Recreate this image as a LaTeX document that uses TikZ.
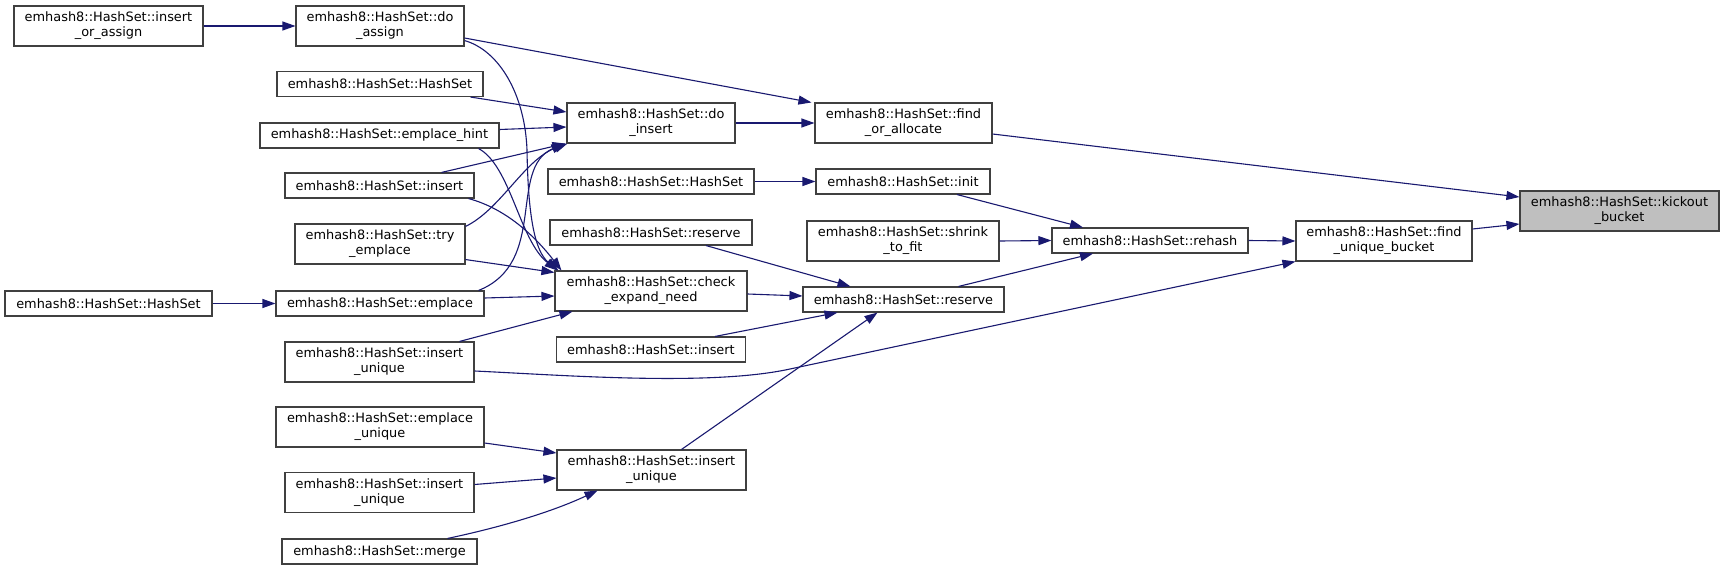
\documentclass[tikz,border=0pt]{standalone}
\usepackage{fontspec}
\setmainfont{DejaVu Sans}
\usetikzlibrary{arrows.meta}
\definecolor{edgecol}{HTML}{191970}
\definecolor{boxcol}{HTML}{404040}
\definecolor{focusfill}{HTML}{BFBFBF}
\begin{document}
\begin{tikzpicture}[x=1pt,y=-1pt,
  fn/.style={draw=boxcol, line width=1.1pt, fill=white, rectangle, inner sep=0pt, align=center,
    font=\fontsize{12.9}{15}\selectfont, minimum height=25pt},
  fntwo/.style={fn, minimum height=40pt},
  call/.style={draw=edgecol, line width=1.1pt, -{Triangle[length=13pt,width=9pt]}},
]
\fill[white] (0,0) rectangle (1724,570);
\useasboundingbox (0,0) rectangle (1724,570);

% column 1
\node[fntwo, minimum width=189pt] (ioa) at (108.5,26) {emhash8::HashSet::insert\\\_or\_assign};
\node[fn, minimum width=207pt] (hsB) at (108.5,303.5) {emhash8::HashSet::HashSet};
% column 2
\node[fntwo, minimum width=168pt] (doassign) at (380,26) {emhash8::HashSet::do\\\_assign};
\node[fn, minimum width=206pt] (hsA) at (380,84) {emhash8::HashSet::HashSet};
\node[fn, minimum width=239pt] (ehint) at (379.5,135.5) {emhash8::HashSet::emplace\_hint};
\node[fn, minimum width=189pt] (insA) at (379.5,185.5) {emhash8::HashSet::insert};
\node[fntwo, minimum width=170pt] (tryemp) at (380,244) {emhash8::HashSet::try\\\_emplace};
\node[fn, minimum width=208pt] (emplace) at (380,303.5) {emhash8::HashSet::emplace};
\node[fntwo, minimum width=189pt] (iuA) at (379.5,362) {emhash8::HashSet::insert\\\_unique};
\node[fntwo, minimum width=208pt] (eu) at (380,427) {emhash8::HashSet::emplace\\\_unique};
\node[fntwo, minimum width=189pt] (iuB) at (379.5,492.5) {emhash8::HashSet::insert\\\_unique};
\node[fn, minimum width=195pt] (merge) at (379.5,551.5) {emhash8::HashSet::merge};
% column 3
\node[fntwo, minimum width=168pt] (doinsert) at (651,123) {emhash8::HashSet::do\\\_insert};
\node[fn, minimum width=206pt] (hsC) at (651,181.5) {emhash8::HashSet::HashSet};
\node[fn, minimum width=202pt] (resA) at (651,232.5) {emhash8::HashSet::reserve};
\node[fntwo, minimum width=192pt] (check) at (651,291) {emhash8::HashSet::check\\\_expand\_need};
\node[fn, minimum width=189pt] (insB) at (651,349.5) {emhash8::HashSet::insert};
\node[fntwo, minimum width=189pt] (iuC) at (651.5,470) {emhash8::HashSet::insert\\\_unique};
% column 4
\node[fntwo, minimum width=177pt] (foa) at (903.5,123) {emhash8::HashSet::find\\\_or\_allocate};
\node[fn, minimum width=174pt] (init) at (903,181.5) {emhash8::HashSet::init};
\node[fntwo, minimum width=192pt] (shrink) at (903,241) {emhash8::HashSet::shrink\\\_to\_fit};
\node[fn, minimum width=201pt] (resB) at (903.5,299.5) {emhash8::HashSet::reserve};
% column 5-7
\node[fn, minimum width=196pt] (rehash) at (1150,240.5) {emhash8::HashSet::rehash};
\node[fntwo, minimum width=176pt] (fub) at (1384,241) {emhash8::HashSet::find\\\_unique\_bucket};
\node[fntwo, minimum width=199pt, fill=focusfill] (kick) at (1619.5,211) {emhash8::HashSet::kickout\\\_bucket};

% edges
\draw[call] (ioa.east) -- (doassign.west);
\draw[call] ([yshift=-12pt]doassign.east) -- ([xshift=-3pt]foa.north west);
\draw[call] ([yshift=6pt]doassign.south east) .. controls +(35,10) and +(-2,-55) .. (527,150)
  .. controls +(1,60) and +(-25,-20) .. ([xshift=4pt]check.north west);
\draw[call] ([xshift=-13pt]hsA.south east) -- ([yshift=11pt]doinsert.west);
\draw[call] ([yshift=6pt]ehint.east) -- ([yshift=-4pt]doinsert.west);
\draw[call] ([xshift=62pt]insA.north) -- ([xshift=-1pt]doinsert.south west);
\draw[call] ([yshift=-3pt]tryemp.north east) .. controls +(35,-17) and +(-43,16) .. ([xshift=1pt]doinsert.south west);
\draw[call] ([xshift=-6pt]emplace.north east) .. controls +(70,-28) and +(-57,25) .. ([xshift=-2pt]doinsert.south west);
\draw[call] ([xshift=-21pt]ehint.south east) .. controls +(32,17) and +(-38,-30) .. ([xshift=3pt]check.north west);
\draw[call] ([xshift=-6pt]insA.south east) .. controls +(37,10) and +(-27,-35) .. ([xshift=7pt]check.north west);
\draw[call] ([yshift=5pt]tryemp.south east) -- ([yshift=-2pt]check.north west);
\draw[call] ([yshift=5.5pt]emplace.east) -- ([yshift=-5pt]check.west);
\draw[call] ([xshift=80pt]iuA.north) -- ([xshift=18pt]check.south west);
\draw[call] (hsB.east) -- (emplace.west);
\draw[call] (doinsert.east) -- (foa.west);
\draw[call] ([yshift=-11pt]foa.east) -- ([yshift=14pt]kick.west);
\draw[call] (hsC.east) -- (init.west);
\draw[call] ([xshift=54pt]init.south) -- ([xshift=-67pt]rehash.north);
\draw[call] (shrink.east) -- (rehash.west);
\draw[call] ([xshift=55pt]resB.north) -- ([xshift=-57pt]rehash.south);
\draw[call] (rehash.east) -- (fub.west);
\draw[call] ([yshift=12pt]fub.east) -- ([yshift=-13pt]kick.west);
\draw[call] ([xshift=55pt]resA.south) -- ([xshift=-53pt]resB.north);
\draw[call] ([yshift=-3pt]check.east) -- ([yshift=3.5pt]resB.west);
\draw[call] ([xshift=64pt]insB.north) -- ([xshift=-66pt]resB.south);
\draw[call] ([xshift=30pt]iuC.north) -- ([xshift=-26pt]resB.south);
\draw[call] ([yshift=-9pt]iuA.east) .. controls +(86,4) and +(-80,17.6) .. (790,369) -- (fub.south west);
\draw[call] ([yshift=-16pt]eu.east) -- ([yshift=17pt]iuC.west);
\draw[call] ([yshift=8pt]iuB.east) -- ([yshift=-8pt]iuC.west);
\draw[call] ([xshift=68pt]merge.north) .. controls +(52,-11) and +(-47,22) .. ([xshift=-54pt]iuC.south);
\end{tikzpicture}
\end{document}
